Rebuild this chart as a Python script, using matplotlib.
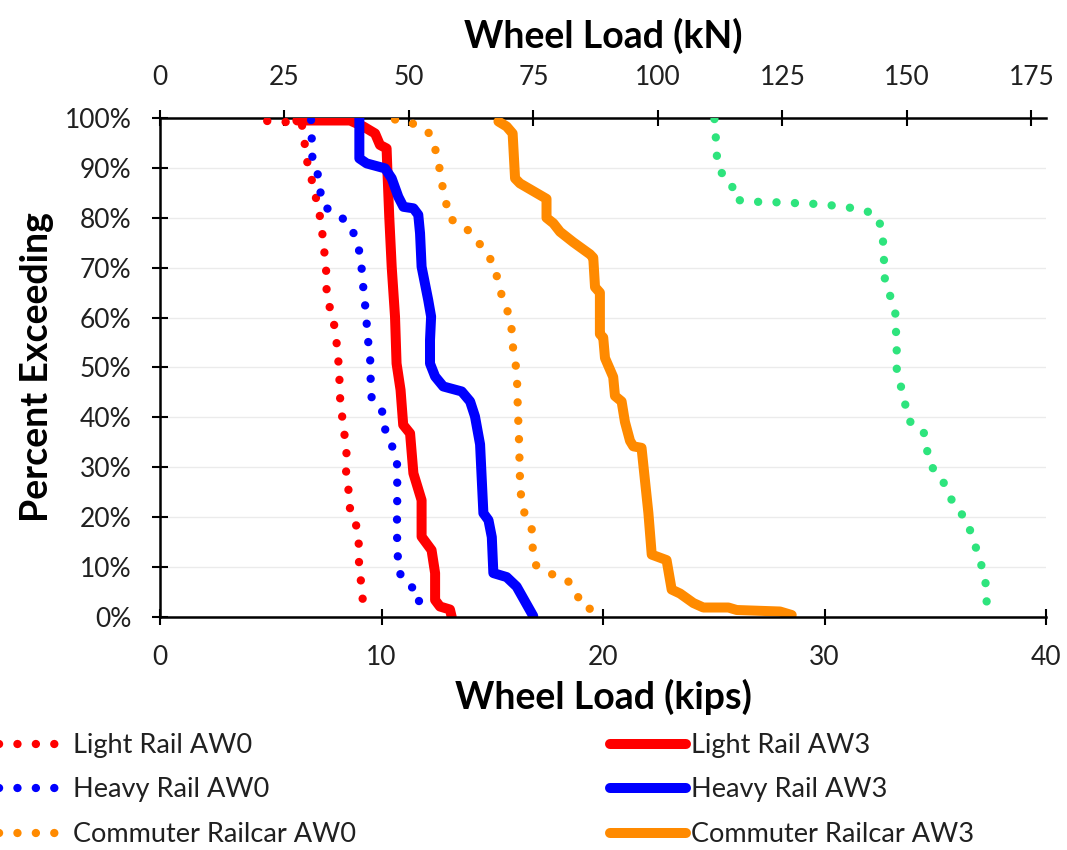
import matplotlib
matplotlib.use("Agg")
import matplotlib.pyplot as plt
from matplotlib.ticker import PercentFormatter, MultipleLocator
from matplotlib.lines import Line2D

plt.rcParams['font.family'] = ['Lato', 'DejaVu Sans']

KIP_TO_KN = 4.448

# percent exceeding (%) vs wheel load (kips)
lr_aw0_x = [4.84, 5.67, 6.40, 6.52, 6.62, 6.82, 7.15, 7.30, 7.37, 7.48, 7.52, 7.52, 7.75, 7.92, 8.00,
            8.08, 8.11, 8.14, 8.25, 8.35, 8.43, 8.40, 8.52, 8.58, 8.86, 8.97, 8.98, 9.06, 9.15, 9.13]
lr_aw0_y = [99.4, 99.2, 98.9, 95.3, 91.7, 88.2, 81.9, 78.4, 74.7, 71.2, 67.5, 64.0, 60.9, 57.3, 53.7,
            50.0, 46.5, 42.9, 39.3, 35.8, 32.3, 28.8, 25.1, 21.6, 18.3, 14.8, 11.2, 7.6, 4.0, 0.4]

lr_aw3_x = [6.2, 8.58, 9.18, 9.71, 9.93, 10.23, 10.26, 10.35, 10.46, 10.61, 10.68, 10.86, 10.98, 11.29,
            11.44, 11.81, 11.81, 12.26, 12.42, 12.42, 12.64, 13.09, 13.17]
lr_aw3_y = [99.5, 99.5, 98.3, 96.9, 94.6, 93.9, 90.2, 80.2, 70.2, 60.2, 50.8, 45.5, 38.5, 36.8,
            28.8, 23.4, 16.1, 13.4, 8.8, 3.4, 2.1, 1.5, 0.0]

hr_aw0_x = [6.82, 6.85, 6.85, 7.10, 7.21, 7.42, 8.05, 8.58, 8.88, 9.06, 9.13, 9.20, 9.29, 9.35, 9.42,
            9.51, 9.51, 9.56, 10.08, 10.17, 10.49, 10.70, 10.71, 10.71, 10.70, 10.70, 10.73, 10.76,
            11.14, 11.71, 11.68]
hr_aw0_y = [99.6, 96.3, 92.6, 89.4, 85.7, 82.2, 80.6, 78.6, 75.4, 72.1, 68.4, 64.9, 61.3, 57.7, 54.2,
            50.6, 47.0, 43.5, 40.9, 37.5, 34.1, 30.8, 27.1, 23.6, 20.0, 16.4, 12.9, 9.3,
            6.4, 5.3, 1.7]

hr_aw3_x = [9.0, 9.0, 9.33, 10.16, 10.46, 10.76, 10.99, 11.44, 11.66, 11.74, 11.81, 12.11, 12.24, 12.19,
            12.19, 12.42, 12.79, 13.62, 14.0, 14.22, 14.45, 14.60, 14.83, 14.98, 15.05, 15.65, 16.1, 16.85]
hr_aw3_y = [100.0, 91.9, 90.9, 89.9, 87.9, 84.2, 82.2, 81.9, 80.6, 76.9, 70.2, 63.5, 60.2, 55.5,
            50.8, 48.2, 46.2, 45.2, 43.2, 40.2, 34.6, 20.8, 19.4, 16.0, 8.8, 8.0, 6.1, 0.2]

cr_aw0_x = [10.61, 11.36, 12.11, 12.42, 12.60, 12.72, 12.90, 13.05, 13.77, 14.27, 14.75, 15.12, 15.28,
            15.50, 15.80, 15.91, 15.95, 16.10, 16.13, 16.15, 16.18, 16.21, 16.23, 16.25, 16.30, 16.45,
            16.78, 16.82, 16.93, 17.61, 18.36, 18.81, 19.08, 19.86]
cr_aw0_y = [99.7, 99.0, 97.2, 93.9, 90.4, 87.0, 83.4, 79.9, 78.2, 75.6, 73.1, 70.0, 66.8,
            63.3, 60.1, 56.4, 53.0, 49.5, 46.0, 42.4, 38.8, 35.2, 31.5, 27.9, 24.2, 20.9,
            17.7, 14.1, 10.5, 8.7, 7.6, 4.7, 1.9, 1.3]

cr_aw3_x = [15.28, 15.65, 15.92, 16.03, 16.25, 17.45, 17.45, 17.76, 18.06, 18.66, 19.41, 19.56, 19.64,
            19.86, 19.86, 20.01, 20.09, 20.46, 20.54, 20.84, 20.99, 21.22, 21.37, 21.74, 22.05, 22.20,
            22.87, 23.10, 23.48, 24.08, 24.53, 25.66, 26.04, 27.99, 28.52]
cr_aw3_y = [99.3, 98.3, 96.9, 87.9, 86.9, 83.8, 80.0, 78.9, 77.2, 75.1, 72.7, 72.0, 66.1,
            65.0, 56.7, 56.0, 51.9, 48.1, 44.3, 43.2, 39.1, 35.3, 34.2, 33.9, 20.8, 12.5,
            11.4, 5.5, 4.7, 2.8, 1.9, 1.9, 1.4, 1.1, 0.4]

gr_x = [25.03, 25.09, 25.13, 25.28, 25.81, 25.91, 26.64, 27.46, 28.26, 29.07, 29.90, 30.70, 31.50, 32.28,
        32.58, 32.66, 32.69, 32.73, 33.00, 33.21, 33.23, 33.26, 33.26, 33.44, 33.63, 33.81, 34.46, 34.61,
        34.76, 35.29, 35.59, 35.94, 36.45, 36.65, 36.95, 37.14, 37.32, 37.32]
gr_y = [99.8, 96.3, 92.7, 89.3, 87.2, 83.7, 83.2, 83.2, 83.0, 82.9, 82.7, 82.3, 81.8, 80.8,
        78.1, 74.4, 70.8, 67.3, 63.9, 60.6, 57.0, 53.4, 49.8, 46.4, 42.9, 39.3, 37.5, 33.9,
        30.5, 27.8, 24.8, 21.7, 19.5, 16.0, 12.6, 9.4, 5.8, 2.1]

RED, BLUE, ORANGE, GREEN = '#ff0000', '#0000ff', '#ff8a00', '#2ee47d'

fig = plt.figure(figsize=(10.67, 8.5), dpi=100)
ax = fig.add_axes([160 / 1067, 1 - 617 / 850, 886 / 1067, 499 / 850])

dot = dict(linestyle=(0, (0.01, 2.2)), linewidth=6.0, dash_capstyle='round')
solid = dict(linestyle='-', linewidth=7.2, solid_capstyle='round', solid_joinstyle='round')

ax.plot(lr_aw0_x, [v / 100 for v in lr_aw0_y], color=RED, **dot)
ax.plot(lr_aw3_x, [v / 100 for v in lr_aw3_y], color=RED, **solid)
ax.plot(hr_aw0_x, [v / 100 for v in hr_aw0_y], color=BLUE, **dot)
ax.plot(hr_aw3_x, [v / 100 for v in hr_aw3_y], color=BLUE, **solid)
ax.plot(cr_aw0_x, [v / 100 for v in cr_aw0_y], color=ORANGE, **dot)
ax.plot(cr_aw3_x, [v / 100 for v in cr_aw3_y], color=ORANGE, **solid)
ax.plot(gr_x, [v / 100 for v in gr_y], color=GREEN, **dot)

ax.set_xlim(0, 40)
ax.set_ylim(0, 1)
ax.xaxis.set_major_locator(MultipleLocator(10))
ax.yaxis.set_major_locator(MultipleLocator(0.1))
ax.yaxis.set_major_formatter(PercentFormatter(1.0, decimals=0))
ax.grid(axis='y', color='#ebebeb', linewidth=1.0)
ax.set_axisbelow(True)

for s in ['left', 'bottom', 'top']:
    ax.spines[s].set_linewidth(1.8)
ax.spines['right'].set_visible(False)
ax.spines['top'].set_visible(False)
ax.tick_params(direction='inout', length=11, width=1.5, labelsize=19, pad=15, colors='black',
               labelcolor='#202020')

sec = ax.secondary_xaxis('top', functions=(lambda x: x * KIP_TO_KN, lambda x: x / KIP_TO_KN))
sec.set_xticks([0, 25, 50, 75, 100, 125, 150, 175])
sec.spines['top'].set_linewidth(1.8)
sec.tick_params(direction='inout', length=11, width=1.5, labelsize=19, pad=15, labelcolor='#202020')
sec.set_xlabel('Wheel Load (kN)', fontsize=27, fontweight='bold', labelpad=12)

ax.set_xlabel('Wheel Load (kips)', fontsize=27, fontweight='bold', labelpad=6)
ax.set_ylabel('Percent Exceeding', fontsize=27, fontweight='bold', labelpad=8)

labels_left = ['Light Rail AW0', 'Heavy Rail AW0', 'Commuter Railcar AW0']
labels_right = ['Light Rail AW3', 'Heavy Rail AW3', 'Commuter Railcar AW3']
colors = [RED, BLUE, ORANGE]

h_left = [Line2D([], [], color=c, **dot) for c in colors]
h_right = [Line2D([], [], color=c, linestyle='-', linewidth=7.2, solid_capstyle='round') for c in colors]

leg_kw = dict(loc='upper left', frameon=False, fontsize=19.5, borderpad=0, borderaxespad=0,
              labelspacing=0.72, labelcolor='#202020')
fig.legend(h_left, labels_left, bbox_to_anchor=(-22 / 1067, 1 - 733 / 850),
           handlelength=3.0, handletextpad=0.5, **leg_kw)
fig.legend(h_right, labels_right, bbox_to_anchor=(610 / 1067, 1 - 733 / 850),
           handlelength=2.8, handletextpad=0.2, **leg_kw)

fig.canvas.draw()
for t in ax.yaxis.get_major_ticks():
    if abs(t.get_loc() - 1.0) < 1e-6:
        t.gridline.set_visible(False)

fig.savefig('out.png', dpi=100)
